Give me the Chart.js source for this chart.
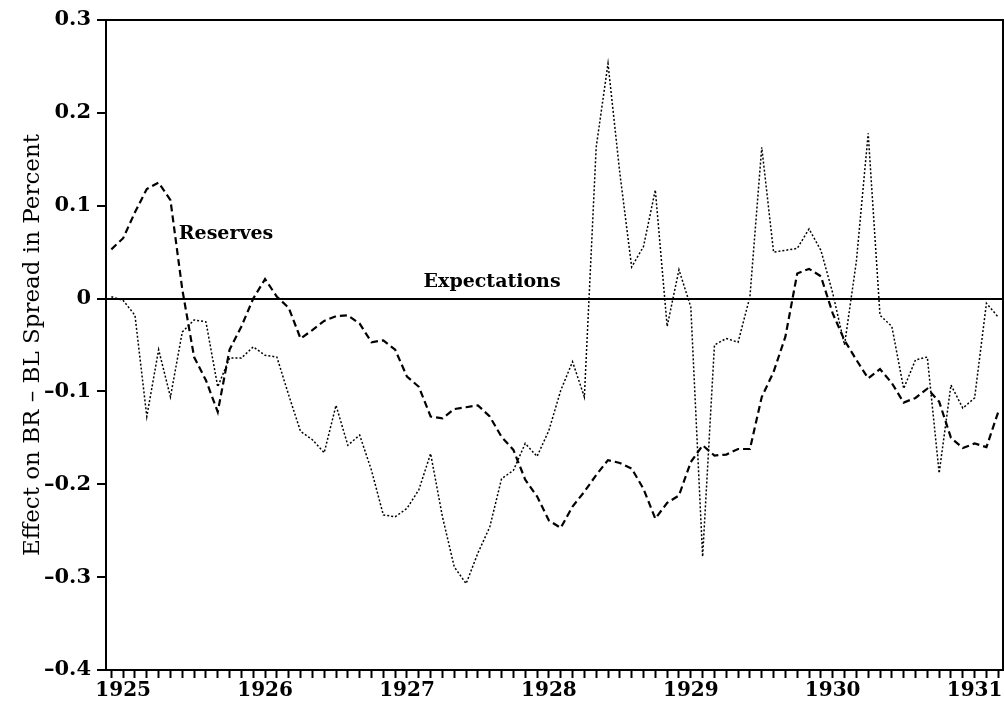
<!DOCTYPE html>
<html lang="en">
<head>
<meta charset="UTF-8">
<title>Effect on BR - BL Spread</title>
<script src="https://cdn.jsdelivr.net/npm/chart.js"></script>
<style>
  html, body { margin: 0; padding: 0; background: #fff; }
  #wrap { width: 1005px; height: 706px; }
</style>
</head>
<body>
<div id="wrap"><canvas id="spreadChart"></canvas></div>

<script>
    // monthly observations, Dec 1924 .. Mar 1931
    const firstYear = 1924, firstMonth = 12, nMonths = 76;
    const months = [];
    for (let i = 0; i < nMonths; i++) {
        const k = firstMonth - 1 + i;
        months.push((firstYear + Math.floor(k / 12)) + '-' + String(k % 12 + 1).padStart(2, '0'));
    }

    const reserves = [
        0.053, 0.065, 0.093, 0.118, 0.125, 0.106, 0.010, -0.063, -0.088, -0.122, -0.055, -0.030,
        0.000, 0.021, 0.002, -0.010, -0.043, -0.034, -0.024, -0.019, -0.018, -0.027, -0.047, -0.045,
        -0.055, -0.084, -0.095, -0.127, -0.129, -0.119, -0.117, -0.115, -0.127, -0.149, -0.163, -0.195,
        -0.213, -0.239, -0.247, -0.224, -0.208, -0.190, -0.174, -0.177, -0.183, -0.205, -0.237, -0.220,
        -0.212, -0.176, -0.158, -0.169, -0.168, -0.162, -0.162, -0.106, -0.079, -0.041, 0.027, 0.032,
        0.024, -0.016, -0.045, -0.066, -0.086, -0.076, -0.091, -0.112, -0.107, -0.097, -0.111, -0.150,
        -0.161, -0.156, -0.160, -0.122
    ];

    const expectations = [
        0.002, -0.002, -0.018, -0.127, -0.055, -0.106, -0.036, -0.023, -0.025, -0.095, -0.064, -0.064,
        -0.052, -0.061, -0.063, -0.104, -0.143, -0.152, -0.166, -0.115, -0.158, -0.147, -0.185, -0.233,
        -0.235, -0.226, -0.206, -0.167, -0.235, -0.289, -0.307, -0.274, -0.246, -0.194, -0.185, -0.156,
        -0.170, -0.142, -0.099, -0.068, -0.106, 0.163, 0.253, 0.135, 0.034, 0.056, 0.117, -0.030,
        0.031, -0.009, -0.278, -0.050, -0.043, -0.047, 0.002, 0.163, 0.050, 0.052, 0.054, 0.075,
        0.052, 0.006, -0.050, 0.040, 0.178, -0.018, -0.030, -0.097, -0.066, -0.063, -0.188, -0.093,
        -0.118, -0.107, -0.005, -0.020
    ];

    const yTicks = [0.3, 0.2, 0.1, 0, -0.1, -0.2, -0.3, -0.4];
    const baseYear = 1925;

    // text labels placed beside the lines (month offset from Jan 1925, value)
    const lineNotes = [
        { text: 'Reserves', month: 8.7, value: 0.070 },
        { text: 'Expectations', month: 31.2, value: 0.018 }
    ];

    // month offset from Jan 1925
    const monthPos = months.map(s => (parseInt(s.slice(0, 4)) - baseYear) * 12 + parseInt(s.slice(5)) - 1);
    const toPoints = arr => arr.map((v, i) => ({ x: monthPos[i], y: v }));

    const serif = '"DejaVu Serif", "Liberation Serif", serif';

    const framePlugin = {
        id: 'frame',
        afterDatasetsDraw(chart) {
            const { ctx, chartArea: a, scales } = chart;
            ctx.save();
            ctx.strokeStyle = '#000';
            ctx.lineWidth = 2;
            ctx.beginPath();
            ctx.moveTo(a.left, a.top);
            ctx.lineTo(a.right, a.top);
            ctx.lineTo(a.right, a.bottom);
            ctx.stroke();

            ctx.fillStyle = '#000';
            ctx.font = 'bold 19px ' + serif;
            ctx.textAlign = 'center';
            ctx.textBaseline = 'middle';
            lineNotes.forEach(n => {
                ctx.fillText(n.text, scales.x.getPixelForValue(n.month), scales.y.getPixelForValue(n.value));
            });
            ctx.restore();
        }
    };

    const isZero = v => Math.abs(v) < 1e-9;

    new Chart(document.getElementById('spreadChart'), {
        type: 'line',
        data: {
            datasets: [
                {
                    label: 'Reserves',
                    data: toPoints(reserves),
                    borderColor: '#000',
                    borderWidth: 2.2,
                    borderDash: [7, 4],
                    pointRadius: 0,
                    tension: 0,
                    fill: false
                },
                {
                    label: 'Expectations',
                    data: toPoints(expectations),
                    borderColor: '#000',
                    borderWidth: 1.5,
                    borderDash: [2, 2],
                    pointRadius: 0,
                    tension: 0,
                    fill: false
                }
            ]
        },
        options: {
            responsive: true,
            maintainAspectRatio: false,
            animation: false,
            layout: { padding: { top: 20, right: 2, left: 0, bottom: 0 } },
            plugins: {
                legend: { display: false },
                tooltip: { enabled: false }
            },
            scales: {
                x: {
                    type: 'linear',
                    min: -1.45,
                    max: 74.4,
                    afterBuildTicks: scale => {
                        scale.ticks = monthPos.map(m => ({ value: m }));
                    },
                    afterFit: scale => { scale.height = 36; },
                    ticks: {
                        autoSkip: false,
                        maxRotation: 0,
                        padding: 1,
                        color: '#000',
                        font: { family: serif, size: 20, weight: 'bold' },
                        callback: v => (v % 12 === 0 ? String(baseYear + v / 12) : '')
                    },
                    grid: {
                        drawOnChartArea: false,
                        tickLength: 8,
                        tickWidth: 2,
                        tickColor: '#000'
                    },
                    border: { color: '#000', width: 2 }
                },
                y: {
                    min: -0.4,
                    max: 0.3,
                    afterBuildTicks: scale => {
                        scale.ticks = yTicks.map(v => ({ value: v }));
                    },
                    afterFit: scale => { scale.width = 106; },
                    ticks: {
                        padding: 6,
                        color: '#000',
                        font: { family: serif, size: 21, weight: 'bold' },
                        callback: v => (isZero(v) ? '0' : v.toFixed(1).replace('-', '\u2013'))
                    },
                    grid: {
                        color: c => (c.tick && isZero(c.tick.value) ? '#000' : 'rgba(0,0,0,0)'),
                        lineWidth: 2,
                        tickLength: 9,
                        tickWidth: 2,
                        tickColor: '#000'
                    },
                    border: { color: '#000', width: 2 },
                    title: {
                        display: true,
                        text: 'Effect on BR \u2013 BL Spread in Percent',
                        color: '#000',
                        font: { family: serif, size: 23 },
                        padding: { top: 19, bottom: 19 }
                    }
                }
            }
        },
        plugins: [framePlugin]
    });
</script>
</body>
</html>
